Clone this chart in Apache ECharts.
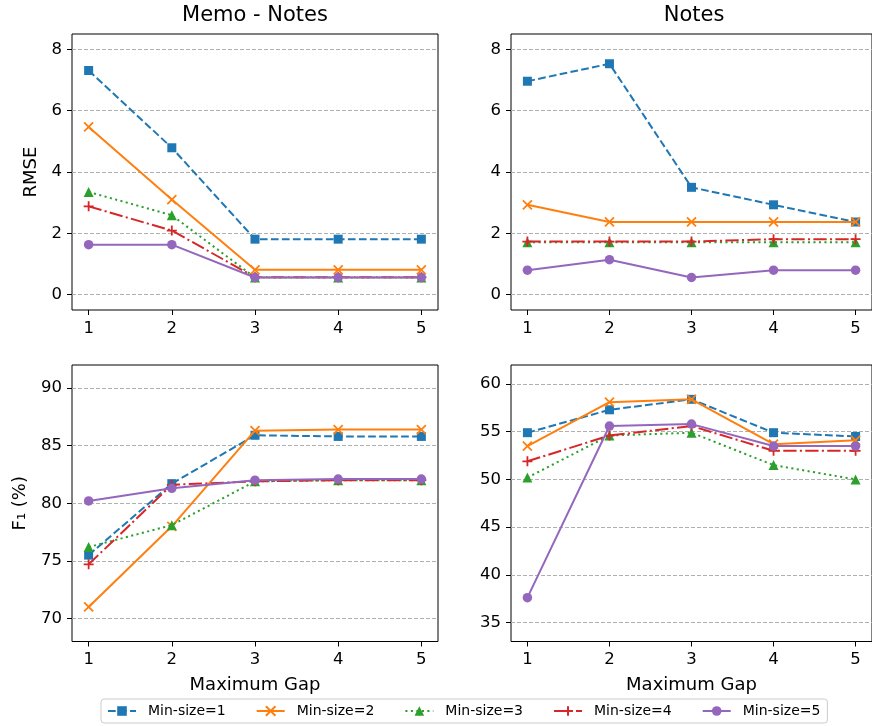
<!DOCTYPE html>
<html>
<head>
<meta charset="utf-8">
<script src="https://cdn.jsdelivr.net/npm/echarts@6/dist/echarts.min.js"></script>
<style>html,body{margin:0;padding:0;background:#fff;}#c{width:872px;height:726px;}</style>
</head>
<body>
<div id="c"></div>
<script>
// ---- data ----
const gaps = [1, 2, 3, 4, 5];
const seriesNames = ['Min-size=1', 'Min-size=2', 'Min-size=3', 'Min-size=4', 'Min-size=5'];
const panelTitles = ['Memo - Notes', 'Notes'];
const xTicks = [1, 2, 3, 4, 5];
const rmseTicks = [0, 2, 4, 6, 8];
const memoF1Ticks = [70, 75, 80, 85, 90];
const notesF1Ticks = [35, 40, 45, 50, 55, 60];

const memoRmse1 = [7.31, 4.79, 1.81, 1.81, 1.81];
const memoRmse2 = [5.47, 3.10, 0.81, 0.81, 0.81];
const memoRmse3 = [3.35, 2.59, 0.56, 0.56, 0.56];
const memoRmse4 = [2.88, 2.09, 0.57, 0.57, 0.57];
const memoRmse5 = [1.63, 1.63, 0.56, 0.56, 0.56];

const notesRmse1 = [6.96, 7.53, 3.50, 2.93, 2.37];
const notesRmse2 = [2.93, 2.37, 2.37, 2.37, 2.37];
const notesRmse3 = [1.71, 1.71, 1.71, 1.71, 1.71];
const notesRmse4 = [1.73, 1.73, 1.73, 1.81, 1.81];
const notesRmse5 = [0.80, 1.14, 0.56, 0.80, 0.80];

const memoF1_1 = [75.5, 81.7, 85.9, 85.8, 85.8];
const memoF1_2 = [71.0, 78.0, 86.3, 86.4, 86.4];
const memoF1_3 = [76.2, 78.1, 81.9, 82.0, 82.0];
const memoF1_4 = [74.7, 81.6, 81.9, 82.0, 82.0];
const memoF1_5 = [80.2, 81.3, 82.0, 82.1, 82.1];

const notesF1_1 = [54.9, 57.3, 58.4, 54.9, 54.5];
const notesF1_2 = [53.5, 58.1, 58.4, 53.7, 54.1];
const notesF1_3 = [50.2, 54.6, 54.9, 51.5, 50.0];
const notesF1_4 = [51.9, 54.6, 55.6, 53.0, 53.0];
const notesF1_5 = [37.6, 55.6, 55.8, 53.5, 53.5];

// ---- styles ----
const FONT = 'DejaVu Sans';
const colors = ['#1f77b4', '#ff7f0e', '#2ca02c', '#d62728', '#9467bd'];
const lineTypes = [[7.7, 3.3], 'solid', [2.1, 3.4], [13.3, 3.3, 2.1, 3.3], 'solid'];
const symbols = ['rect', 'path://M0,0L10,10M10,0L0,10', 'triangle', 'path://M5,0L5,10M0,5L10,5', 'circle'];
const symbolSizes = [9, 9, 10, 10, 9.5];
const stroked = [false, true, false, true, false];

const panels = [
  {grid: {left: 72, top: 34, width: 366, height: 276}, yMin: -0.5, yMax: 8.5, ticks: rmseTicks, yName: 'RMSE', nameGap: 32, xName: '', data: [memoRmse1, memoRmse2, memoRmse3, memoRmse4, memoRmse5]},
  {grid: {left: 511, top: 34, width: 366, height: 276}, yMin: -0.5, yMax: 8.5, ticks: rmseTicks, yName: '', nameGap: 32, xName: '', data: [notesRmse1, notesRmse2, notesRmse3, notesRmse4, notesRmse5]},
  {grid: {left: 72, top: 365, width: 366, height: 276.5}, yMin: 68, yMax: 92, ticks: memoF1Ticks, yName: 'F\u2081 (%)', nameGap: 43, xName: 'Maximum Gap', data: [memoF1_1, memoF1_2, memoF1_3, memoF1_4, memoF1_5]},
  {grid: {left: 511, top: 365, width: 366, height: 276.5}, yMin: 33, yMax: 62, ticks: notesF1Ticks, yName: '', nameGap: 43, xName: 'Maximum Gap', data: [notesF1_1, notesF1_2, notesF1_3, notesF1_4, notesF1_5]}
];

const grids = [], xAxes = [], yAxes = [], series = [];
panels.forEach((p, gi) => {
  grids.push(Object.assign({show: true, borderColor: '#000', borderWidth: 1, backgroundColor: '#fff', containLabel: false}, p.grid));
  xAxes.push({
    type: 'value', gridIndex: gi, min: 0.8, max: 5.2,
    axisLine: {show: false, onZero: false},
    axisTick: {show: true, length: 5, lineStyle: {color: '#000', width: 1}, customValues: xTicks},
    axisLabel: {show: true, color: '#000', fontFamily: FONT, fontSize: 16.5, margin: 10, customValues: xTicks},
    splitLine: {show: false},
    name: p.xName, nameLocation: 'middle', nameGap: 35,
    nameTextStyle: {color: '#000', fontFamily: FONT, fontSize: 18}
  });
  yAxes.push({
    type: 'value', gridIndex: gi, min: p.yMin, max: p.yMax,
    axisLine: {show: false, onZero: false},
    axisTick: {show: true, length: 5, lineStyle: {color: '#000', width: 1}, customValues: p.ticks},
    axisLabel: {show: true, color: '#000', fontFamily: FONT, fontSize: 16.5, margin: 10, customValues: p.ticks},
    splitLine: {show: true, lineStyle: {color: '#b0b0b0', width: 1, type: [4, 2]}},
    name: p.yName, nameLocation: 'middle', nameGap: p.nameGap,
    nameTextStyle: {color: '#000', fontFamily: FONT, fontSize: 18}
  });
  p.data.forEach((vals, si) => {
    series.push({
      type: 'line', name: seriesNames[si], xAxisIndex: gi, yAxisIndex: gi,
      data: gaps.map((g, k) => [g, vals[k]]),
      symbol: symbols[si], symbolSize: symbolSizes[si], showAllSymbol: true,
      lineStyle: {color: colors[si], width: 2, type: lineTypes[si]},
      itemStyle: stroked[si] ? {color: colors[si], borderColor: colors[si], borderWidth: 1.8} : {color: colors[si], borderWidth: 0},
      emphasis: {disabled: true},
      z: 2 + si
    });
  });
});

const chart = echarts.init(document.getElementById('c'), null, {renderer: 'canvas'});
chart.setOption({
  animation: false,
  backgroundColor: '#fff',
  textStyle: {fontFamily: FONT},
  grid: grids, xAxis: xAxes, yAxis: yAxes, series: series,
  legend: {
    data: seriesNames, left: 101, top: 699, orient: 'horizontal',
    itemWidth: 28, itemHeight: 12, itemGap: 30,
    padding: [5, 7, 5, 6],
    borderColor: '#cccccc', borderWidth: 1, borderRadius: 3, backgroundColor: '#fff',
    textStyle: {color: '#000', fontFamily: FONT, fontSize: 14, padding: [0, 0, 0, 7]},
    selectedMode: false
  },
  graphic: [
    {type: 'text', x: 255, y: 15.5, style: {text: panelTitles[0], font: '21px "DejaVu Sans"', fill: '#000', textAlign: 'center', textVerticalAlign: 'middle'}},
    {type: 'text', x: 694, y: 15.5, style: {text: panelTitles[1], font: '21px "DejaVu Sans"', fill: '#000', textAlign: 'center', textVerticalAlign: 'middle'}}
  ]
});
</script>
</body>
</html>
